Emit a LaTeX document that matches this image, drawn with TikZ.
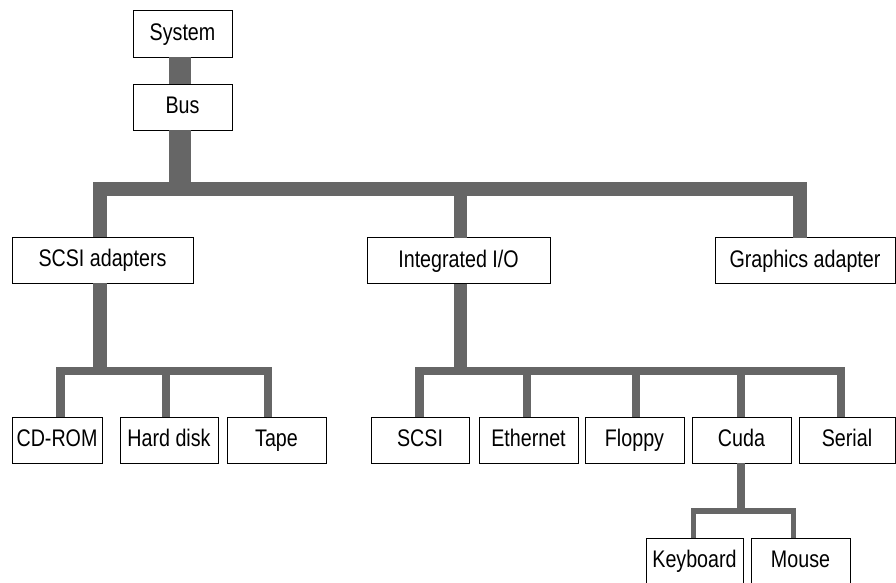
\documentclass[tikz,border=0pt]{standalone}
\usepackage{fontspec}
\setmainfont{Liberation Sans}[FakeStretch=0.82]
\definecolor{busgray}{HTML}{666666}
\begin{document}
\begin{tikzpicture}[x=1pt,y=-1pt,
  box/.style={draw=black, line width=1pt, fill=white, inner sep=0pt, outer sep=0pt,
    minimum height=46pt, text height=18pt, text depth=4.5pt,
    font=\fontsize{24}{28}\selectfont},
  link/.style={draw=busgray, line join=miter, line cap=butt}]
\useasboundingbox (0,0) rectangle (896,582);
% top level
\node[box, minimum width=99pt, minimum height=47pt] (sys) at (182.5,33.5) {System};
\node[box, minimum width=99pt] (bus) at (182.5,107) {Bus};
% second level
\node[box, minimum width=181pt] (sa) at (102.5,260) {SCSI adapters};
\node[box, minimum width=183pt] (io) at (458.5,260.5) {Integrated I/O};
\node[box, minimum width=180pt] (ga) at (805,260.5) {Graphics adapter};
% third level
\node[box, minimum width=90pt] (cd) at (57,440) {CD-ROM};
\node[box, minimum width=98pt] (hd) at (169,440) {Hard disk};
\node[box, minimum width=99pt] (tape) at (276.5,440) {Tape};
\node[box, minimum width=98pt] (scsi) at (420,440) {SCSI};
\node[box, minimum width=99pt] (eth) at (528.5,440) {Ethernet};
\node[box, minimum width=99pt] (flop) at (634.5,440) {Floppy};
\node[box, minimum width=99pt] (cuda) at (741.5,440) {Cuda};
\node[box, minimum width=96pt] (ser) at (847,440) {Serial};
% fourth level
\node[box, minimum width=97pt] (kb) at (694.5,561) {Keyboard};
\node[box, minimum width=99pt] (mouse) at (800.5,561) {Mouse};
% bus levels
\coordinate (bar1) at (0,189);
\coordinate (bar2) at (0,371);
\coordinate (bar3) at (0,511);
% drop points
\coordinate (sysd) at ([xshift=-2.5pt]sys.south);
\coordinate (busu) at ([xshift=-2.5pt]bus.north);
\coordinate (busd) at ([xshift=-2.5pt]bus.south);
\coordinate (sau) at ([xshift=-2.5pt]sa.north);
\coordinate (sad) at ([xshift=-2.5pt]sa.south);
\coordinate (iou) at ([xshift=2pt]io.north);
\coordinate (iod) at ([xshift=2pt]io.south);
\coordinate (gau) at ([xshift=-5pt]ga.north);
\coordinate (cdu) at ([xshift=3.5pt]cd.north);
\coordinate (hdu) at ([xshift=-3pt]hd.north);
\coordinate (tapeu) at ([xshift=-8.5pt]tape.north);
\coordinate (scsiu) at ([xshift=-0.5pt]scsi.north);
\coordinate (ethu) at ([xshift=-2pt]eth.north);
\coordinate (flopu) at ([xshift=1pt]flop.north);
\coordinate (cudau) at ([xshift=-0.5pt]cuda.north);
\coordinate (cudad) at ([xshift=-0.5pt]cuda.south);
\coordinate (seru) at ([xshift=-6pt]ser.north);
\coordinate (kbu) at ([xshift=-1pt]kb.north);
\coordinate (mouseu) at ([xshift=-7pt]mouse.north);
% trunk
\draw[link, line width=22pt] (sysd) -- (busu);
\draw[link, line width=22pt] (busd) -- (busd |- bar1);
% first bus
\draw[link, line width=13.5pt] (sau) -- (sau |- bar1) -- (gau |- bar1) -- (gau);
\draw[link, line width=13.5pt] (iou) -- (iou |- bar1);
% SCSI adapters group
\draw[link, line width=13.5pt] (sad) -- (sad |- bar2);
\draw[link, line width=8.5pt] (cdu) -- (cdu |- bar2) -- (tapeu |- bar2) -- (tapeu);
\draw[link, line width=8pt] (hdu) -- (hdu |- bar2);
% Integrated I/O group
\draw[link, line width=13.5pt] (iod) -- (iod |- bar2);
\draw[link, line width=8.5pt] (scsiu) -- (scsiu |- bar2) -- (seru |- bar2) -- (seru);
\draw[link, line width=8pt] (ethu) -- (ethu |- bar2);
\draw[link, line width=8pt] (flopu) -- (flopu |- bar2);
\draw[link, line width=8pt] (cudau) -- (cudau |- bar2);
% Cuda group
\draw[link, line width=8pt] (cudad) -- (cudad |- bar3);
\draw[link, line width=5.5pt] (kbu) -- (kbu |- bar3) -- (mouseu |- bar3) -- (mouseu);
\end{tikzpicture}
\end{document}
